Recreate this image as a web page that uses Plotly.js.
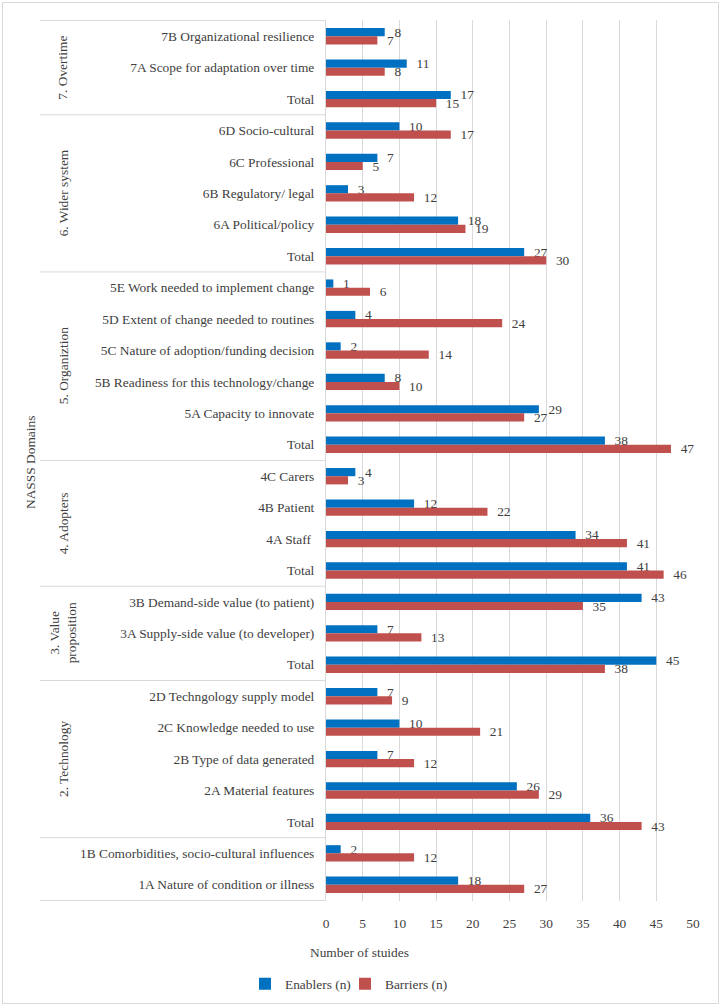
<!DOCTYPE html>
<html>
<head>
<meta charset="utf-8">
<script src="https://cdn.plot.ly/plotly-3.0.1.min.js"></script>
<style>html,body{margin:0;padding:0;background:#fff;}#chart{width:721px;height:1007px;}</style>
</head>
<body>
<div id="chart"></div>
<script>
// Categories listed top to bottom
const groups = ["7", "7", "7", "6", "6", "6", "6", "6", "5", "5", "5", "5", "5", "5", "4", "4", "4", "4", "3", "3", "3", "2", "2", "2", "2", "2", "1", "1"];
const labels = [
  "7B Organizational resilience", "7A Scope for adaptation over time", "Total",
  "6D Socio-cultural", "6C Professional", "6B Regulatory/ legal", "6A Political/policy", "Total",
  "5E Work needed to implement change", "5D Extent of change needed to routines", "5C Nature of adoption/funding decision",
  "5B Readiness for this technology/change", "5A Capacity to innovate", "Total",
  "4C Carers", "4B Patient", "4A Staff ", "Total",
  "3B Demand-side value (to patient)", "3A Supply-side value (to developer)", "Total",
  "2D Techngology supply model", "2C Knowledge needed to use", "2B Type of data generated", "2A Material features", "Total",
  "1B Comorbidities, socio-cultural influences", "1A Nature of condition or illness"
];
const enablers = [8, 11, 17, 10, 7, 3, 18, 27, 1, 4, 2, 8, 29, 38, 4, 12, 34, 41, 43, 7, 45, 7, 10, 7, 26, 36, 2, 18];
const barriers = [7, 8, 15, 17, 5, 12, 19, 30, 6, 24, 14, 10, 27, 47, 3, 22, 41, 46, 35, 13, 38, 9, 21, 12, 29, 43, 12, 27];
const groupNames = {"7": "7. Overtime", "6": "6. Wider system", "5": "5. Organiztion", "4": "4. Adopters", "3": "3. Value<br>proposition", "2": "2. Technology", "1": ""};
const xTicks = [0, 5, 10, 15, 20, 25, 30, 35, 40, 45, 50];

const W = 721, H = 1007, ML = 326, MR = 28, MT = 20, MB = 106;
const PW = W - ML - MR, PH = H - MT - MB;
const px = x => (x - ML) / PW;
const py = y => (H - MB - y) / PH;

const ids = labels.map((l, i) => groups[i] + "|" + i);
const font = '"Liberation Serif", "Times New Roman", Times, serif';
const FS = 13.4;
const txtColor = "#404040";
const sp = "\u00a0\u00a0";

const traces = [
  {type: "bar", orientation: "h", name: "Enablers (n)", y: ids, x: enablers, legend: "legend",
   marker: {color: "#0070C0"}, text: enablers.map(v => sp + v), textposition: "outside",
   constraintext: "none", cliponaxis: false, textfont: {family: font, size: FS, color: txtColor}, hoverinfo: "x+name"},
  {type: "bar", orientation: "h", name: "Barriers (n)", y: ids, x: barriers, legend: "legend2",
   marker: {color: "#C0504D"}, text: barriers.map(v => sp + v), textposition: "outside",
   constraintext: "none", cliponaxis: false, textfont: {family: font, size: FS, color: txtColor}, hoverinfo: "x+name"}
];

// group boundaries
const shapes = [];
const annotations = [];
const lineColor = "#d9d9d9";
let start = 0;
const bounds = [-0.5];
for (let i = 1; i <= groups.length; i++) {
  if (i === groups.length || groups[i] !== groups[i - 1]) {
    bounds.push(i - 0.5);
    const g = groups[start];
    if (groupNames[g]) {
      annotations.push({xref: "paper", yref: "y", x: px(63), y: (start + i - 1) / 2,
        text: groupNames[g], textangle: -90, showarrow: false,
        font: {family: font, size: FS, color: txtColor}, xanchor: "center", yanchor: "middle"});
    }
    start = i;
  }
}
bounds.forEach(b => shapes.push({type: "line", xref: "paper", yref: "y", x0: px(40), x1: 0, y0: b, y1: b,
  line: {color: lineColor, width: 1}}));
// outer chart border
shapes.push({type: "rect", xref: "paper", yref: "paper", x0: px(2.5), x1: px(718.5), y0: py(2.5), y1: py(1003.5),
  line: {color: "#d9d9d9", width: 1}});

annotations.push({xref: "paper", yref: "paper", x: px(30), y: py(463), text: "NASSS Domains", textangle: -90,
  showarrow: false, font: {family: font, size: FS, color: txtColor}, xanchor: "center", yanchor: "middle"});
annotations.push({xref: "paper", yref: "paper", x: px(359), y: py(952), text: "Number of stuides",
  showarrow: false, font: {family: font, size: FS, color: txtColor}, xanchor: "center", yanchor: "middle"});

const legendBase = {orientation: "h", xanchor: "left", y: py(984), yanchor: "middle", bgcolor: "rgba(0,0,0,0)",
  font: {family: font, size: FS, color: txtColor}, itemwidth: 30};

const layout = {
  width: W, height: H,
  margin: {l: ML, r: MR, t: MT, b: MB, autoexpand: false},
  paper_bgcolor: "#fff", plot_bgcolor: "#fff",
  barmode: "group", bargap: 0.48, bargroupgap: 0,
  font: {family: font, size: FS, color: txtColor},
  xaxis: {range: [0, 50], tickvals: xTicks, ticktext: xTicks.map(String), showgrid: true, gridcolor: "#d9d9d9",
    zeroline: false, showline: false, ticks: "outside", ticklen: 10, tickcolor: "rgba(0,0,0,0)",
    tickfont: {family: font, size: FS, color: txtColor}, fixedrange: true, automargin: false},
  yaxis: {type: "category", autorange: "reversed", tickmode: "array", tickvals: ids, ticktext: labels,
    showgrid: false, showline: true, linecolor: "#d9d9d9", ticks: "outside", ticklen: 8, tickcolor: "rgba(0,0,0,0)",
    tickfont: {family: font, size: FS, color: txtColor}, fixedrange: true, automargin: false},
  showlegend: true,
  legend: Object.assign({}, legendBase, {x: px(245)}),
  legend2: Object.assign({}, legendBase, {x: px(345)}),
  shapes: shapes,
  annotations: annotations
};

Plotly.newPlot("chart", traces, layout, {displayModeBar: false, staticPlot: true});
</script>
</body>
</html>
